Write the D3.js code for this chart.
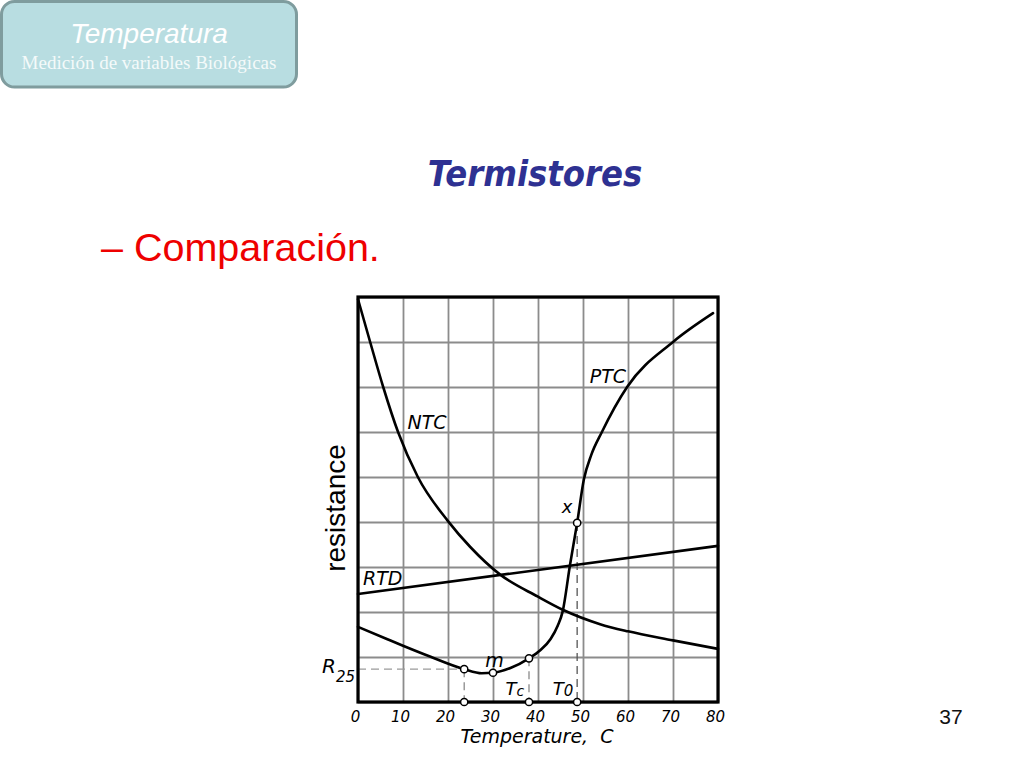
<!DOCTYPE html>
<html>
<head>
<meta charset="utf-8">
<script src="https://cdn.jsdelivr.net/npm/d3@7"></script>
<style>
  html, body { margin: 0; padding: 0; background: #ffffff; }
  svg { display: block; }
</style>
</head>
<body>
<svg id="chart" width="1024" height="768"></svg>
<script>
// ---------------- DATA ----------------
const xTickValues = [0, 10, 20, 30, 40, 50, 60, 70, 80];
const yGridValues = [0, 1, 2, 3, 4, 5, 6, 7, 8, 9];

// NTC thermistor (temperature, relative resistance in grid units)
const ntcTemp = [0, 2.7, 5.6, 8.9, 13.3, 20, 24.9, 31.6, 40, 45.5, 53.8, 60, 70, 80];
const ntcRes  = [8.95, 8.0, 7.0, 6.0, 5.0, 4.02, 3.45, 2.83, 2.34, 2.05, 1.73, 1.57, 1.37, 1.18];

// RTD (linear)
const rtdTemp = [0, 80];
const rtdRes  = [2.4, 3.47];

// PTC thermistor
const ptcTemp = [0, 6.4, 10, 16, 23.6, 27.5, 30, 34, 38, 40.5, 42.8, 44.4, 45.5, 47.1, 48.7, 50.2, 51.8, 54.2, 59.8, 70, 78.9];
const ptcRes  = [1.67, 1.40, 1.25, 1.01, 0.73, 0.64, 0.65, 0.76, 0.97, 1.15, 1.4, 1.7, 2.02, 3.04, 3.98, 4.95, 5.48, 6.0, 7.0, 8.0, 8.64];

// Marked points on the PTC curve
const markNames = ["R25", "m", "Tc", "x"];
const markTemp  = [23.6, 30, 38, 48.7];
const markRes   = [0.73, 0.65, 0.97, 3.98];
// Marked points on the temperature axis
const axisMarkTemp = [23.6, 38, 48.7];

// ---------------- LAYOUT ----------------
const svg = d3.select("#chart");
const x = d3.scaleLinear().domain([0, 80]).range([358, 718]);
const y = d3.scaleLinear().domain([0, 9]).range([702, 297]);

// ---------------- HEADER BADGE ----------------
svg.append("rect")
  .attr("x", 1.5).attr("y", 1.5).attr("width", 295).attr("height", 85.5)
  .attr("rx", 13).attr("ry", 13)
  .attr("fill", "#b8dde1").attr("stroke", "#7f9c9e").attr("stroke-width", 3);
svg.append("text")
  .attr("x", 149).attr("y", 43).attr("text-anchor", "middle")
  .attr("font-family", "Liberation Sans, Arial, sans-serif")
  .attr("font-style", "italic").attr("font-size", 28)
  .attr("fill", "#ffffff").text("Temperatura");
svg.append("text")
  .attr("x", 149).attr("y", 69).attr("text-anchor", "middle")
  .attr("font-family", "Liberation Serif, Times New Roman, serif")
  .attr("font-size", 19)
  .attr("fill", "#f4fafa").text("Medición de variables Biológicas");

// ---------------- TITLES ----------------
svg.append("text")
  .attr("x", 535).attr("y", 186).attr("text-anchor", "middle")
  .attr("font-family", "DejaVu Sans Condensed, DejaVu Sans, sans-serif")
  .attr("font-style", "italic").attr("font-weight", "bold").attr("font-size", 36)
  .attr("fill", "#2e3192").text("Termistores");

svg.append("text")
  .attr("x", 101).attr("y", 261)
  .attr("font-family", "Liberation Sans, Arial, sans-serif")
  .attr("font-size", 39.5)
  .attr("fill", "#ee0000").text("– Comparación.");

svg.append("text")
  .attr("x", 951).attr("y", 724).attr("text-anchor", "middle")
  .attr("font-family", "Liberation Sans, Arial, sans-serif")
  .attr("font-size", 21)
  .attr("fill", "#111111").text("37");

// ---------------- GRID ----------------
const grid = svg.append("g");
grid.append("g")
  .attr("transform", `translate(0,${y(0)})`)
  .call(d3.axisBottom(x).tickValues(xTickValues).tickSize(-(y(0) - y(9))).tickFormat(""))
  .call(g => g.select(".domain").remove())
  .call(g => g.selectAll("line").attr("stroke", "#8c8c8c").attr("stroke-width", 1.8));
grid.append("g")
  .attr("transform", `translate(${x(0)},0)`)
  .call(d3.axisLeft(y).tickValues(yGridValues).tickSize(-(x(80) - x(0))).tickFormat(""))
  .call(g => g.select(".domain").remove())
  .call(g => g.selectAll("line").attr("stroke", "#8c8c8c").attr("stroke-width", 1.8));

// ---------------- DASHED GUIDES ----------------
const guides = svg.append("g").attr("fill", "none").attr("stroke-width", 1.3).attr("stroke-dasharray", "8,5");
guides.append("line")
  .attr("x1", x(0)).attr("x2", x(markTemp[0]))
  .attr("y1", y(markRes[0])).attr("y2", y(markRes[0]))
  .attr("stroke", "#9a9a9a");
[0, 2, 3].forEach((i, k) => {
  guides.append("line")
    .attr("x1", x(markTemp[i])).attr("x2", x(markTemp[i]))
    .attr("y1", y(markRes[i])).attr("y2", y(0))
    .attr("stroke", k === 2 ? "#555555" : "#8a8a8a");
});

// ---------------- CURVES ----------------
const line = d3.line()
  .x(d => x(d[0])).y(d => y(d[1]))
  .curve(d3.curveMonotoneX);
const curves = svg.append("g").attr("fill", "none").attr("stroke", "#000").attr("stroke-width", 2.6)
  .attr("stroke-linejoin", "round").attr("stroke-linecap", "round");
curves.append("path").attr("d", line(d3.zip(ntcTemp, ntcRes)));
curves.append("path").attr("d", d3.line().x(d => x(d[0])).y(d => y(d[1]))(d3.zip(rtdTemp, rtdRes)));
curves.append("path").attr("d", line(d3.zip(ptcTemp, ptcRes)));

// ---------------- FRAME ----------------
svg.append("rect")
  .attr("x", x(0)).attr("y", y(9))
  .attr("width", x(80) - x(0)).attr("height", y(0) - y(9))
  .attr("fill", "none").attr("stroke", "#000").attr("stroke-width", 3.2);

// ---------------- MARKERS ----------------
const markers = svg.append("g").attr("fill", "#fff").attr("stroke", "#000").attr("stroke-width", 1.5);
markTemp.forEach((t, i) => {
  markers.append("circle").attr("cx", x(t)).attr("cy", y(markRes[i])).attr("r", 3.6);
});
axisMarkTemp.forEach(t => {
  markers.append("circle").attr("cx", x(t)).attr("cy", y(0)).attr("r", 3.6);
});

// ---------------- AXIS TICK LABELS ----------------
const labelFont = "DejaVu Sans, Verdana, sans-serif";
svg.append("g")
  .attr("transform", `translate(-3,${y(0)})`)
  .call(d3.axisBottom(x).tickValues(xTickValues).tickSize(0).tickPadding(9).tickFormat(d3.format("d")))
  .call(g => g.select(".domain").remove())
  .call(g => g.selectAll("text")
    .attr("font-family", labelFont).attr("font-style", "italic")
    .attr("font-size", 15).attr("fill", "#000"));

svg.append("text")
  .attr("x", 537).attr("y", 743).attr("text-anchor", "middle")
  .attr("font-family", labelFont).attr("font-style", "italic").attr("font-size", 19)
  .attr("xml:space", "preserve").style("white-space", "pre")
  .text("Temperature,  C");

svg.append("text")
  .attr("transform", "translate(345,508) rotate(-90)")
  .attr("text-anchor", "middle")
  .attr("font-family", "Liberation Sans, Arial, sans-serif").attr("font-size", 28)
  .attr("fill", "#000").text("resistance");

// ---------------- CURVE LABELS ----------------
const lab = (tx, ty, str, size) => svg.append("text")
  .attr("x", tx).attr("y", ty)
  .attr("font-family", labelFont).attr("font-style", "italic")
  .attr("font-size", size || 19).attr("fill", "#000").text(str);

lab(x(11), y(6.07), "NTC");
lab(x(51.5), y(7.1), "PTC");
lab(x(1.1), y(2.6), "RTD");
lab(x(45.3), y(4.2), "x", 18);
lab(x(28.3), y(0.78), "m", 19);

// Tc
const tc = lab(x(32.8), y(0.15), "T", 18);
tc.append("tspan").attr("font-size", 14).attr("dy", 1).text("c");
// T0
const t0 = lab(x(43.3), y(0.15), "T", 18);
t0.append("tspan").attr("font-size", 15).attr("dy", 1).text("0");
// R25
const r25 = lab(322, y(0.65), "R", 20);
r25.append("tspan").attr("font-size", 15).attr("dy", 9).text("25");
</script>
</body>
</html>
